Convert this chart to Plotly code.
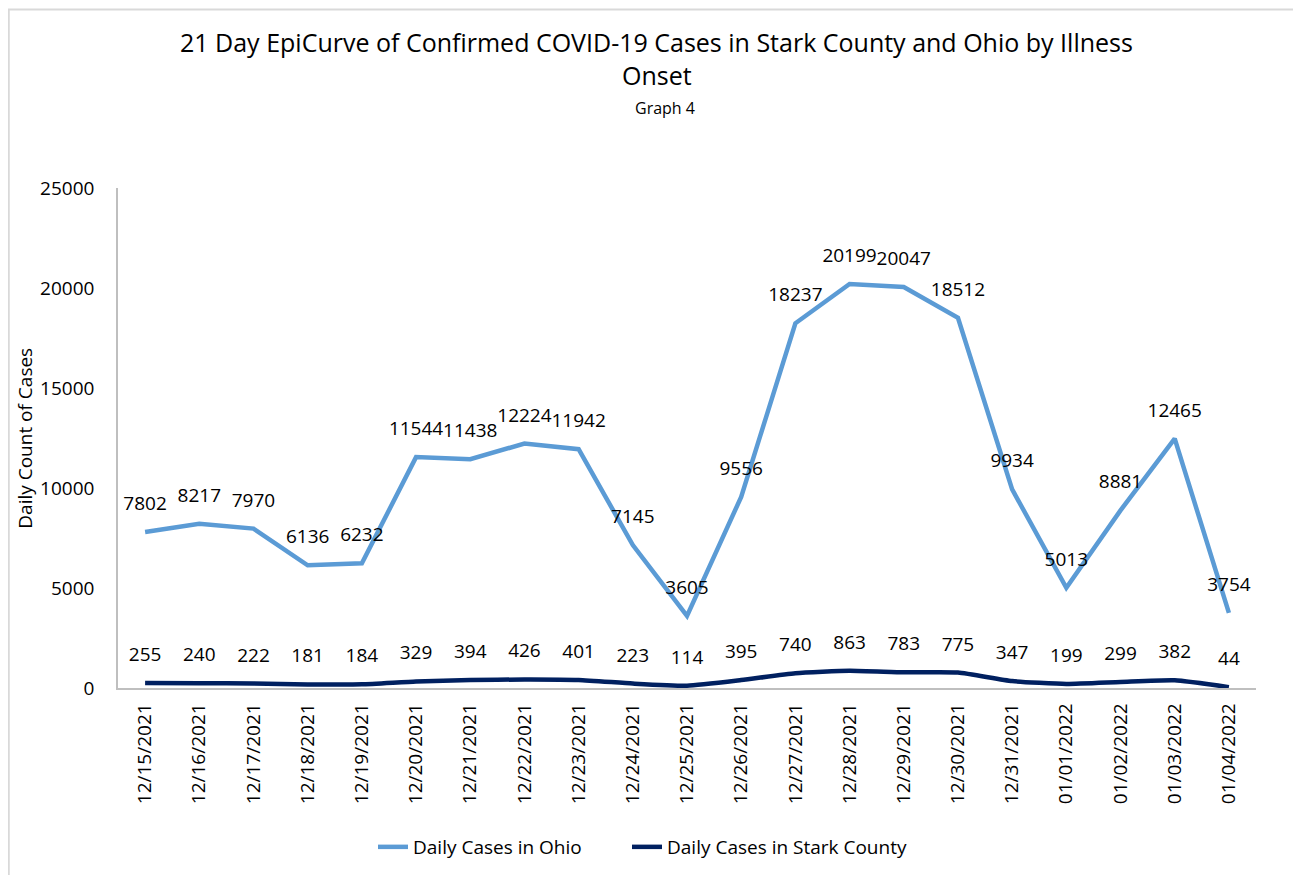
import plotly.graph_objects as go

dates = [
    "12/15/2021", "12/16/2021", "12/17/2021", "12/18/2021", "12/19/2021",
    "12/20/2021", "12/21/2021", "12/22/2021", "12/23/2021", "12/24/2021",
    "12/25/2021", "12/26/2021", "12/27/2021", "12/28/2021", "12/29/2021",
    "12/30/2021", "12/31/2021", "01/01/2022", "01/02/2022", "01/03/2022",
    "01/04/2022",
]
ohio_cases = [7802, 8217, 7970, 6136, 6232, 11544, 11438, 12224, 11942, 7145,
              3605, 9556, 18237, 20199, 20047, 18512, 9934, 5013, 8881, 12465, 3754]
stark_cases = [255, 240, 222, 181, 184, 329, 394, 426, 401, 223,
               114, 395, 740, 863, 783, 775, 347, 199, 299, 382, 44]

title_lines = [
    "21 Day EpiCurve of Confirmed COVID-19 Cases in Stark County and Ohio by Illness",
    "Onset",
]
subtitle = "Graph 4"

FONT = "Open Sans"
CLEAR = "rgba(0,0,0,0)"

fig = go.Figure()

fig.add_trace(
    go.Scatter(
        x=dates,
        y=ohio_cases,
        name="Daily Cases in Ohio",
        mode="lines+markers+text",
        line=dict(color="#5B9BD5", width=4.5),
        # invisible markers only to push the labels up off the line
        marker=dict(size=26, color=CLEAR),
        text=[str(v) for v in ohio_cases],
        textposition="top center",
        textfont=dict(size=19, color="#000000", family=FONT),
        legend="legend",
    )
)

fig.add_trace(
    go.Scatter(
        x=dates,
        y=stark_cases,
        name="Daily Cases in Stark County",
        mode="lines+markers+text",
        line=dict(color="#002060", width=4.5, shape="spline", smoothing=0.5),
        marker=dict(size=26, color=CLEAR),
        text=[str(v) for v in stark_cases],
        textposition="top center",
        textfont=dict(size=19, color="#000000", family=FONT),
        legend="legend2",
    )
)

annotations = [
    dict(text=title_lines[0], x=0.4736, y=1.292, font=dict(size=25)),
    dict(text=title_lines[1], x=0.4736, y=1.226, font=dict(size=25)),
    dict(text=subtitle, x=0.481, y=1.16, font=dict(size=16)),
    dict(text="Daily Count of Cases", x=-0.082, y=0.5, textangle=-90,
         font=dict(size=19)),
]
for a in annotations:
    a.update(xref="paper", yref="paper", showarrow=False,
             xanchor="center", yanchor="middle")
    a["font"].update(family=FONT, color="#000000")

legend_style = dict(
    orientation="h",
    xanchor="left",
    y=-0.318,
    yanchor="middle",
    font=dict(size=19, color="#000000"),
)

fig.update_layout(
    width=1301,
    height=875,
    margin=dict(l=110, r=53, t=180, b=195),
    paper_bgcolor="white",
    plot_bgcolor="white",
    font=dict(family=FONT, color="#000000"),
    annotations=annotations,
    showlegend=True,
    legend=dict(x=0.2241, **legend_style),
    legend2=dict(x=0.4473, **legend_style),
    shapes=[
        dict(type="rect", xref="paper", yref="paper",
             x0=-0.096, x1=1.2, y0=-0.5, y1=1.357,
             line=dict(color="#D9D9D9", width=2), layer="below"),
    ],
)

fig.update_xaxes(
    type="category",
    range=[-0.5, 20.5],
    tickangle=-90,
    tickfont=dict(size=19, color="#000000"),
    ticklabelstandoff=6,
    automargin=False,
    showline=True,
    linecolor="#BFBFBF",
    linewidth=1.5,
    showgrid=False,
    ticks="",
)

fig.update_yaxes(
    range=[0, 25000],
    dtick=5000,
    tickformat="d",
    tickfont=dict(size=19, color="#000000"),
    ticklabelstandoff=18,
    automargin=False,
    showline=True,
    linecolor="#BFBFBF",
    linewidth=1.5,
    showgrid=False,
    zeroline=False,
    ticks="",
)

fig.write_html("out.html")
